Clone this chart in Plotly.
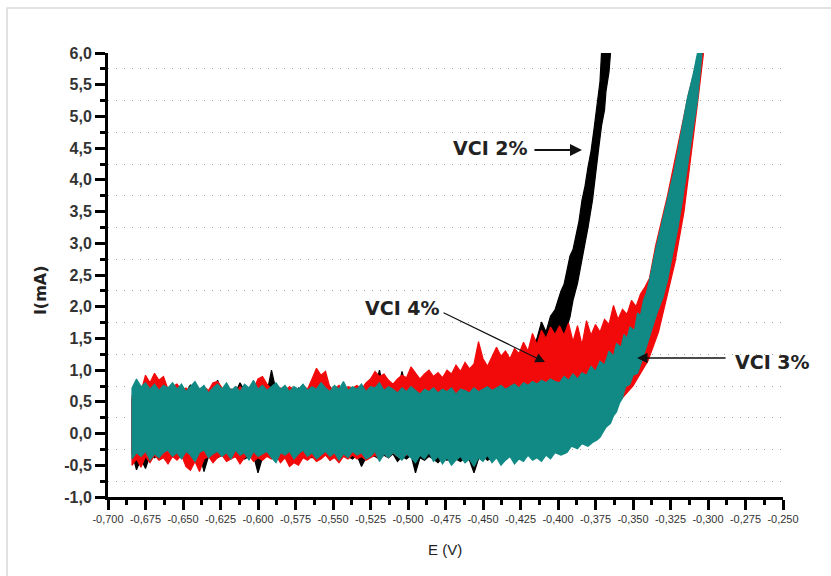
import plotly.graph_objects as go

# Potential axis samples (V) shared by the flat part of every scan
E_GRID = [
    -0.684, -0.681, -0.678, -0.675, -0.672, -0.669, -0.666, -0.663, -0.660, -0.657,
    -0.654, -0.651, -0.648, -0.645, -0.642, -0.639, -0.636, -0.633, -0.630, -0.627,
    -0.624, -0.621, -0.618, -0.615, -0.612, -0.609, -0.606, -0.603, -0.600, -0.597,
    -0.594, -0.591, -0.588, -0.585, -0.582, -0.579, -0.576, -0.573, -0.570, -0.567,
    -0.564, -0.561, -0.558, -0.555, -0.552, -0.549, -0.546, -0.543, -0.540, -0.537,
    -0.534, -0.531, -0.528, -0.525, -0.522, -0.519, -0.516, -0.513, -0.510, -0.507,
    -0.504, -0.501, -0.498, -0.495, -0.492, -0.489, -0.486, -0.483, -0.480, -0.477,
    -0.474, -0.471, -0.468, -0.465, -0.462, -0.459, -0.456, -0.453, -0.450, -0.447,
    -0.444, -0.441, -0.438, -0.435, -0.432, -0.429, -0.426, -0.423, -0.420, -0.417,
    -0.414, -0.411, -0.408, -0.405, -0.402,
]

# ---- VCI 3% (teal) : upper / lower noise envelope, mA ----
VCI3_UP = [
    0.72, 0.86, 0.74, 0.80, 0.70, 0.78, 0.68, 0.76, 0.72, 0.80,
    0.70, 0.78, 0.66, 0.74, 0.82, 0.70, 0.76, 0.64, 0.72, 0.78,
    0.70, 0.80, 0.68, 0.74, 0.66, 0.78, 0.72, 0.84, 0.70, 0.76,
    0.68, 0.74, 0.80, 0.70, 0.76, 0.66, 0.74, 0.70, 0.78, 0.68,
    0.74, 0.70, 0.80, 0.72, 0.66, 0.76, 0.70, 0.82, 0.68, 0.74,
    0.70, 0.78, 0.66, 0.74, 0.72, 0.80, 0.68, 0.74, 0.70, 0.64,
    0.72, 0.66, 0.74, 0.68, 0.62, 0.70, 0.66, 0.72, 0.64, 0.70,
    0.66, 0.72, 0.62, 0.70, 0.68, 0.64, 0.72, 0.66, 0.70, 0.74,
    0.68, 0.72, 0.76, 0.70, 0.74, 0.78, 0.72, 0.80, 0.76, 0.82,
    0.78, 0.84, 0.80, 0.86, 0.82,
]
VCI3_LO = [
    -0.40, -0.30, -0.36, -0.28, -0.42, -0.32, -0.38, -0.30, -0.26, -0.36,
    -0.30, -0.40, -0.28, -0.34, -0.44, -0.30, -0.26, -0.38, -0.32, -0.28,
    -0.36, -0.30, -0.40, -0.26, -0.34, -0.30, -0.42, -0.28, -0.36, -0.32,
    -0.28, -0.38, -0.46, -0.30, -0.34, -0.28, -0.40, -0.32, -0.26, -0.36,
    -0.30, -0.40, -0.34, -0.28, -0.36, -0.30, -0.42, -0.32, -0.38, -0.28,
    -0.34, -0.30, -0.40, -0.36, -0.28, -0.44, -0.32, -0.38, -0.30, -0.36,
    -0.42, -0.32, -0.38, -0.46, -0.34, -0.40, -0.30, -0.44, -0.36, -0.48,
    -0.38, -0.50, -0.42, -0.36, -0.46, -0.40, -0.52, -0.38, -0.44, -0.34,
    -0.46, -0.38, -0.50, -0.42, -0.36, -0.48, -0.40, -0.44, -0.34, -0.42,
    -0.38, -0.44, -0.34, -0.40, -0.30,
]
VCI3_RISE_UP_E = [-0.399, -0.396, -0.393, -0.390, -0.387, -0.384, -0.381, -0.378,
                  -0.375, -0.372, -0.369, -0.366, -0.363, -0.361, -0.358, -0.356,
                  -0.354, -0.352, -0.349, -0.347, -0.345, -0.343, -0.341, -0.339,
                  -0.335, -0.331, -0.327, -0.323, -0.320, -0.317, -0.314, -0.310,
                  -0.307, -0.304]
VCI3_RISE_UP_I = [0.80, 0.90, 0.84, 0.94, 0.86, 0.96, 0.92, 1.06,
                  0.98, 1.14, 1.08, 1.30, 1.22, 1.42, 1.36, 1.56,
                  1.50, 1.68, 1.62, 1.90, 1.86, 2.10, 2.22, 2.42,
                  2.89, 3.30, 3.68, 4.10, 4.47, 4.90, 5.26, 5.65,
                  6.00, 6.00]
VCI3_RISE_LO_E = [-0.306, -0.307, -0.310, -0.312, -0.315, -0.317, -0.320, -0.323,
                  -0.327, -0.330, -0.334, -0.338, -0.341, -0.344, -0.347, -0.350,
                  -0.352, -0.355, -0.357, -0.359, -0.361, -0.363, -0.365, -0.368,
                  -0.370, -0.372, -0.374, -0.377, -0.380, -0.384, -0.387, -0.391,
                  -0.394, -0.398]
VCI3_RISE_LO_I = [5.50, 5.26, 4.80, 4.47, 4.05, 3.68, 3.25, 2.89,
                  2.42, 2.15, 1.90, 1.60, 1.36, 1.15, 0.95, 0.92,
                  0.78, 0.74, 0.56, 0.48, 0.34, 0.28, 0.16, 0.10,
                  0.02, -0.06, -0.10, -0.14, -0.20, -0.16, -0.24, -0.20,
                  -0.30, -0.34]

# ---- VCI 4% (red) ----
VCI4_UP = [
    0.60, 0.72, 0.66, 0.92, 0.80, 0.95, 0.84, 0.90, 0.70, 0.74,
    0.78, 0.68, 0.72, 0.66, 0.76, 0.70, 0.74, 0.68, 0.80, 0.82,
    0.72, 0.66, 0.70, 0.64, 0.74, 0.68, 0.72, 0.70, 0.86, 0.90,
    0.78, 0.70, 0.66, 0.72, 0.68, 0.74, 0.70, 0.66, 0.76, 0.70,
    0.86, 1.03, 0.92, 0.98, 0.72, 0.70, 0.76, 0.68, 0.74, 0.72,
    0.76, 0.70, 0.80, 0.86, 0.98, 0.90, 0.94, 0.84, 0.78, 0.86,
    0.92, 0.88, 1.05, 0.96, 0.86, 0.94, 1.00, 0.90, 0.96, 0.88,
    1.00, 0.94, 1.08, 0.98, 1.12, 1.02, 1.10, 1.45, 1.18, 1.06,
    1.20, 1.36, 1.22, 1.30, 1.18, 1.34, 1.26, 1.44, 1.30, 1.58,
    1.40, 1.63, 1.50, 1.68, 1.56,
]
VCI4_LO = [
    -0.50, -0.40, -0.53, -0.36, -0.46, -0.34, -0.42, -0.38, -0.48, -0.36,
    -0.42, -0.34, -0.52, -0.58, -0.44, -0.60, -0.40, -0.36, -0.46, -0.38,
    -0.34, -0.44, -0.40, -0.36, -0.48, -0.38, -0.34, -0.44, -0.38, -0.42,
    -0.36, -0.40, -0.34, -0.46, -0.38, -0.52, -0.46, -0.50, -0.38, -0.42,
    -0.36, -0.44, -0.40, -0.34, -0.42, -0.38, -0.46, -0.36, -0.40, -0.34,
    -0.40, -0.36, -0.42, -0.38, -0.34, -0.40, -0.32, -0.38, -0.30, -0.36,
    -0.30, -0.34, -0.28, -0.32, -0.26, -0.30, -0.28, -0.24, -0.30, -0.26,
    -0.24, -0.28, -0.22, -0.26, -0.20, -0.24, -0.18, -0.22, -0.16, -0.20,
    -0.14, -0.18, -0.12, -0.16, -0.10, -0.14, -0.08, -0.12, -0.06, -0.10,
    -0.04, -0.08, -0.02, -0.06, 0.00,
]
VCI4_RISE_UP_E = [-0.399, -0.396, -0.393, -0.390, -0.387, -0.384, -0.381, -0.378,
                  -0.375, -0.372, -0.369, -0.366, -0.363, -0.360, -0.357, -0.354,
                  -0.351, -0.348, -0.345, -0.342, -0.339, -0.335, -0.327, -0.320,
                  -0.313, -0.306, -0.303]
VCI4_RISE_UP_I = [1.70, 1.55, 1.74, 1.45, 1.70, 1.40, 1.78, 1.55,
                  1.72, 1.60, 1.80, 1.72, 2.02, 1.80, 1.96, 1.88,
                  2.10, 2.00, 2.20, 2.31, 2.45, 2.95, 3.75, 4.55,
                  5.35, 6.00, 6.00]
VCI4_RISE_LO_E = [-0.306, -0.310, -0.313, -0.316, -0.319, -0.322, -0.325, -0.327,
                  -0.333, -0.340, -0.350, -0.365, -0.380, -0.395]
VCI4_RISE_LO_I = [5.40, 4.60, 4.05, 3.50, 3.10, 2.70, 2.40, 2.20,
                  1.60, 1.15, 0.75, 0.35, 0.10, -0.05]

# ---- VCI 2% (black) ----
VCI2_UP = [
    0.55, 0.62, 0.58, 0.66, 0.60, 0.64, 0.70, 0.62, 0.58, 0.66,
    0.60, 0.68, 0.64, 0.77, 0.62, 0.70, 0.66, 0.64, 0.60, 0.84,
    0.66, 0.62, 0.70, 0.64, 0.80, 0.68, 0.62, 0.66, 0.60, 0.70,
    0.64, 1.00, 0.68, 0.62, 0.70, 0.66, 0.60, 0.72, 0.64, 0.68,
    0.62, 0.70, 0.66, 0.60, 0.74, 0.64, 0.68, 0.62, 0.70, 0.66,
    0.64, 0.72, 0.68, 0.62, 0.70, 1.00, 0.66, 0.62, 0.72, 0.64,
    0.98, 0.70, 0.66, 0.72, 0.68, 0.80, 0.70, 0.74, 0.86, 0.72,
    0.78, 0.74, 0.90, 0.80, 0.76, 0.96, 0.84, 0.88, 0.92, 0.98,
    1.00, 1.10, 1.04, 1.16, 1.08, 1.22, 1.14, 1.30, 1.24, 1.40,
    1.50, 1.76, 1.60, 1.85, 1.95,
]
VCI2_LO = [
    -0.30, -0.57, -0.40, -0.55, -0.34, -0.38, -0.32, -0.36, -0.30, -0.34,
    -0.38, -0.32, -0.36, -0.40, -0.34, -0.30, -0.60, -0.36, -0.32, -0.38,
    -0.34, -0.30, -0.38, -0.36, -0.32, -0.40, -0.36, -0.34, -0.62, -0.38,
    -0.32, -0.36, -0.30, -0.38, -0.34, -0.40, -0.32, -0.36, -0.30, -0.34,
    -0.38, -0.32, -0.36, -0.30, -0.42, -0.34, -0.38, -0.32, -0.36, -0.40,
    -0.34, -0.52, -0.38, -0.32, -0.36, -0.40, -0.34, -0.38, -0.32, -0.44,
    -0.36, -0.40, -0.34, -0.62, -0.38, -0.42, -0.36, -0.40, -0.46, -0.38,
    -0.42, -0.36, -0.40, -0.44, -0.38, -0.42, -0.62, -0.40, -0.36, -0.42,
    -0.38, -0.34, -0.40, -0.30, -0.36, -0.26, -0.32, -0.20, -0.26, -0.14,
    -0.10, 0.00, 0.10, 0.30, 0.60,
]
VCI2_RISE_UP_E = [-0.400, -0.398, -0.396, -0.394, -0.392, -0.390, -0.388, -0.386,
                  -0.384, -0.382, -0.380, -0.378, -0.376, -0.374, -0.372, -0.371,
                  -0.365]
VCI2_RISE_UP_I = [2.10, 2.25, 2.35, 2.55, 2.80, 2.90, 3.10, 3.35,
                  3.68, 3.90, 4.20, 4.45, 4.80, 5.20, 5.55, 6.00,
                  6.00]
VCI2_RISE_LO_E = [-0.366, -0.368, -0.369, -0.371, -0.373, -0.375, -0.377, -0.380,
                  -0.383, -0.385, -0.387, -0.390, -0.392, -0.395, -0.398, -0.400]
VCI2_RISE_LO_I = [5.70, 5.40, 5.10, 4.85, 4.47, 4.05, 3.68, 3.25,
                  2.89, 2.60, 2.37, 2.10, 1.84, 1.60, 1.30, 1.00]

# Axis ticks
X_TICK_VALUES = [-0.700, -0.675, -0.650, -0.625, -0.600, -0.575, -0.550, -0.525, -0.500,
                 -0.475, -0.450, -0.425, -0.400, -0.375, -0.350, -0.325, -0.300, -0.275, -0.250]
X_TICK_LABELS = ["-0,700", "-0,675", "-0,650", "-0,625", "-0,600", "-0,575", "-0,550",
                 "-0,525", "-0,500", "-0,475", "-0,450", "-0,425", "-0,400", "-0,375",
                 "-0,350", "-0,325", "-0,300", "-0,275", "-0,250"]
Y_TICK_VALUES = [-1.0, -0.5, 0.0, 0.5, 1.0, 1.5, 2.0, 2.5, 3.0, 3.5, 4.0, 4.5, 5.0, 5.5, 6.0]
Y_TICK_LABELS = ["-1,0", "-0,5", "0,0", "0,5", "1,0", "1,5", "2,0", "2,5", "3,0",
                 "3,5", "4,0", "4,5", "5,0", "5,5", "6,0"]

BLACK = "#000000"
RED = "#f20a0a"
TEAL = "#118a86"


def band(up, lo, rise_up_e, rise_up_i, rise_lo_e, rise_lo_i):
    """Closed outline: upper envelope left->right, up the rise, back down, lower envelope right->left."""
    xs = E_GRID + rise_up_e + rise_lo_e + E_GRID[::-1]
    ys = up + rise_up_i + rise_lo_i + lo[::-1]
    return xs + [xs[0]], ys + [ys[0]]


fig = go.Figure()
for name, color, parts in [
    ("VCI 2%", BLACK, (VCI2_UP, VCI2_LO, VCI2_RISE_UP_E, VCI2_RISE_UP_I, VCI2_RISE_LO_E, VCI2_RISE_LO_I)),
    ("VCI 4%", RED, (VCI4_UP, VCI4_LO, VCI4_RISE_UP_E, VCI4_RISE_UP_I, VCI4_RISE_LO_E, VCI4_RISE_LO_I)),
    ("VCI 3%", TEAL, (VCI3_UP, VCI3_LO, VCI3_RISE_UP_E, VCI3_RISE_UP_I, VCI3_RISE_LO_E, VCI3_RISE_LO_I)),
]:
    xs, ys = band(*parts)
    fig.add_trace(go.Scatter(
        x=xs, y=ys, mode="lines", name=name, fill="toself", fillcolor=color,
        line=dict(color=color, width=1.2), hoverinfo="skip", showlegend=False,
    ))

label_font = dict(family="DejaVu Sans", size=19, color="#222222")
ann = [
    # curve labels
    dict(x=-0.4447, y=4.50, text="<b>VCI 2%</b>", showarrow=False, font=label_font),
    dict(x=-0.504, y=1.98, text="<b>VCI 4%</b>", showarrow=False, font=label_font),
    dict(x=-0.2567, y=1.13, text="<b>VCI 3%</b>", showarrow=False, font=label_font),
    # arrows
    dict(x=-0.384, y=4.47, ax=-0.4167, ay=4.47, xref="x", yref="y", axref="x", ayref="y",
         text="", showarrow=True, arrowhead=2, arrowsize=1.2, arrowwidth=2, arrowcolor="#111"),
    dict(x=-0.4087, y=1.128, ax=-0.4773, ay=1.917, xref="x", yref="y", axref="x", ayref="y",
         text="", showarrow=True, arrowhead=2, arrowsize=1.6, arrowwidth=1.2, arrowcolor="#111"),
    dict(x=-0.3473, y=1.19, ax=-0.2873, ay=1.19, xref="x", yref="y", axref="x", ayref="y",
         text="", showarrow=True, arrowhead=2, arrowsize=1.4, arrowwidth=1.5, arrowcolor="#111"),
    # axis titles
    dict(x=-0.1007, y=0.466, xref="paper", yref="paper", xanchor="center", yanchor="middle",
         text="<b>I(mA)</b>", textangle=-90, showarrow=False,
         font=dict(family="DejaVu Sans", size=16, color="#222")),
    dict(x=0.4993, y=-0.119, xref="paper", yref="paper", xanchor="center", yanchor="middle",
         text="E (V)", showarrow=False,
         font=dict(family="Liberation Sans", size=15, color="#222")),
]

fig.update_layout(
    width=831, height=576,
    margin=dict(l=108, r=48, t=53, b=79),
    paper_bgcolor="white", plot_bgcolor="white",
    annotations=ann,
    shapes=[dict(type="rect", xref="paper", yref="paper", x0=-0.1496, y0=-0.19, x1=1.08, y1=1.1014,
                 line=dict(color="#d9d9d9", width=1.5), layer="below")],
    xaxis=dict(
        range=[-0.700, -0.250], tickmode="array", tickvals=X_TICK_VALUES, ticktext=X_TICK_LABELS,
        ticks="outside", ticklen=10, tickwidth=2.5, tickcolor="black",
        showline=True, linewidth=3, linecolor="black", showgrid=False, zeroline=False,
        tickfont=dict(family="Liberation Sans", size=11, color="#333"),
        minor=dict(tickmode="linear", tick0=-0.6875, dtick=0.025, ticks="outside",
                   ticklen=5, tickwidth=2.5, tickcolor="black", showgrid=False),
    ),
    yaxis=dict(
        range=[-1.0, 6.0], tickmode="array", tickvals=Y_TICK_VALUES, ticktext=Y_TICK_LABELS,
        ticks="outside", ticklen=10, tickwidth=2.5, tickcolor="black",
        showline=True, linewidth=3, linecolor="black", showgrid=False, zeroline=False,
        tickfont=dict(family="Liberation Sans", size=16, color="#333", weight="bold"),
        minor=dict(tickmode="linear", tick0=-0.75, dtick=0.5, ticks="outside",
                   ticklen=5, tickwidth=2.5, tickcolor="black",
                   showgrid=True, gridcolor="#a3a38a", gridwidth=1, griddash="1px,7px"),
    ),
)

fig.write_html("out.html")
